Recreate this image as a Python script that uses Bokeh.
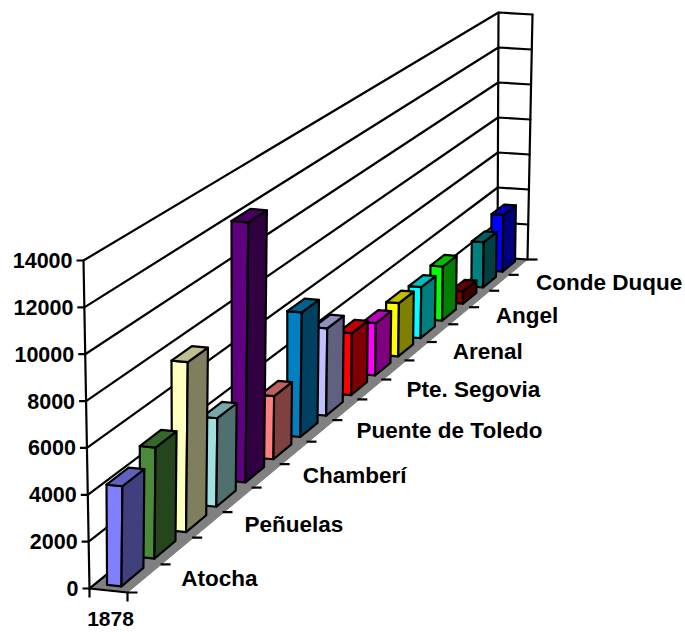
from bokeh.core.properties import value
from bokeh.embed import file_html
from bokeh.models import ColumnDataSource, Range1d
from bokeh.plotting import figure
from bokeh.resources import INLINE

# Scale and category data
value_ticks = [0, 2000, 4000, 6000, 8000, 10000, 12000, 14000]
series_label = "1878"
barrios = ["Atocha", "", "Peñuelas", "", "Chamberí", "", "Puente de Toledo", "",
           "Pte. Segovia", "", "Arenal", "", "Angel", "", "Conde Duque", ""]
totals = [4300, 4870, 7610, 4045, 12120, 3000, 6030, 4300,
          3110, 2670, 2770, 2700, 2910, 670, 2505, 3200]
bar_colors = ["#8080ff", "#4a8a3a", "#ffffc0", "#a0e0e0", "#600080", "#ff8080", "#0080c0", "#c0c0ff",
              "#ff0000", "#ff00ff", "#ffff00", "#00ffff", "#00ff00", "#800000", "#008080", "#0000ff"]

# Perspective box: screen corners of the floor and the ceiling
FLOOR = {"fl": (89, 588), "fr": (127, 592), "bl": (497, 257), "br": (527, 259)}
ROOF = {"fl": (83, 260), "fr": (134, 265), "bl": (498, 12), "br": (532, 14)}
DEPTH_WEIGHT_X = 1.35
DEPTH_WEIGHT_Y = 1.38
VMAX = 14000
N = len(totals)
FONT = "Liberation Sans"


def along(front, back, t, weight):
    return (front * (1 - t) + weight * back * t) / ((1 - t) + weight * t)


def plane(c, u, t):
    lx = along(c["fl"][0], c["bl"][0], t, DEPTH_WEIGHT_X)
    ly = along(c["fl"][1], c["bl"][1], t, DEPTH_WEIGHT_Y)
    rx = along(c["fr"][0], c["br"][0], t, DEPTH_WEIGHT_X)
    ry = along(c["fr"][1], c["br"][1], t, DEPTH_WEIGHT_Y)
    return lx + (rx - lx) * u, ly + (ry - ly) * u


def project(u, slot, val):
    """Screen position of a point across the floor (u), along the categories (slot) and up (val)."""
    t = slot / N
    bx, by = plane(FLOOR, u, t)
    tx, ty = plane(ROOF, u, t)
    h = val / VMAX
    return bx + (tx - bx) * h, by + (ty - by) * h


def shade(color, k):
    r, g, b = (int(color[i:i + 2], 16) for i in (1, 3, 5))
    return "#%02x%02x%02x" % (int(r * k), int(g * k), int(b * k))


def poly(points):
    return [q[0] for q in points], [q[1] for q in points]


p = figure(width=685, height=632, output_backend="svg", toolbar_location=None,
           x_range=Range1d(0, 685), y_range=Range1d(632, 0), min_border=0)
p.axis.visible = False
p.grid.visible = False
p.outline_line_color = None
p.background_fill_color = "white"

LW = 2.2
INK = "black"


def outline(points):
    xs, ys = poly(points)
    p.line(xs, ys, line_color=INK, line_width=LW, line_join="round", line_cap="round")


# Floor
fx, fy = poly([project(0, 0, 0), project(1, 0, 0), project(1, N, 0), project(0, N, 0)])
p.patch(fx, fy, fill_color="#808080", line_color="#808080", line_width=1)
outline([project(0, N, 0), project(0, 0, 0), project(1, 0, 0)])

# Gridlines on the long wall and the end wall, with value ticks
for v in value_ticks:
    outline([project(0, 0, v), project(0, N, v), project(1, N, v)])
    x0, y0 = project(0, 0, v)
    p.line([x0 - 7, x0], [y0, y0], line_color=INK, line_width=LW)
outline([project(0, 0, 0), project(0, 0, VMAX)])
outline([project(0, N, 0), project(0, N, VMAX)])
outline([project(1, N, 0), project(1, N, VMAX)])

# Ticks along the outer floor edge and below the front edge
for i in range(N + 1):
    x0, y0 = project(1, i, 0)
    p.line([x0, x0 + 10], [y0, y0], line_color=INK, line_width=LW)
for u in (0, 1):
    x0, y0 = project(u, 0, 0)
    p.line([x0, x0], [y0, y0 + 9], line_color=INK, line_width=LW)

# Columns, painted from the far end towards the viewer
U0, U1, S0, S1 = 0.31, 0.69, 0.17, 0.83
for i in reversed(range(N)):
    v, c = totals[i], bar_colors[i]
    a, b = i + S0, i + S1
    faces = [
        ([project(U0, a, 0), project(U1, a, 0), project(U1, a, v), project(U0, a, v)], c),
        ([project(U1, a, 0), project(U1, b, 0), project(U1, b, v), project(U1, a, v)], shade(c, 0.5)),
        ([project(U0, a, v), project(U1, a, v), project(U1, b, v), project(U0, b, v)], shade(c, 0.75)),
    ]
    for pts, col in faces:
        xs, ys = poly(pts)
        p.patch(xs, ys, fill_color=col, line_color=INK, line_width=LW, line_join="round")

# Text
tick_src = ColumnDataSource(dict(
    x=[project(0, 0, v)[0] - 11 for v in value_ticks],
    y=[project(0, 0, v)[1] for v in value_ticks],
    t=[str(v) for v in value_ticks]))
p.text("x", "y", "t", source=tick_src, text_align="right", text_baseline="middle",
       text_font=value(FONT), text_font_style="bold", text_font_size="21.5px", text_color="#000000")

named = [i for i, b in enumerate(barrios) if b]
cat_src = ColumnDataSource(dict(
    x=[project(1, i + 0.5, 0)[0] + 37 for i in named],
    y=[project(1, i + 0.5, 0)[1] for i in named],
    t=[barrios[i] for i in named]))
p.text("x", "y", "t", source=cat_src, text_align="left", text_baseline="middle",
       text_font=value(FONT), text_font_style="bold", text_font_size="22.5px", text_color="#000000")

sx = (project(0, 0, 0)[0] + project(1, 0, 0)[0]) / 2 + 2
sy = project(1, 0, 0)[1] + 26
p.text([sx], [sy], [series_label], text_align="center", text_baseline="middle",
       text_font=value(FONT), text_font_style="bold", text_font_size="21px", text_color="#000000")

open("out.html", "w").write(file_html(p, INLINE))
